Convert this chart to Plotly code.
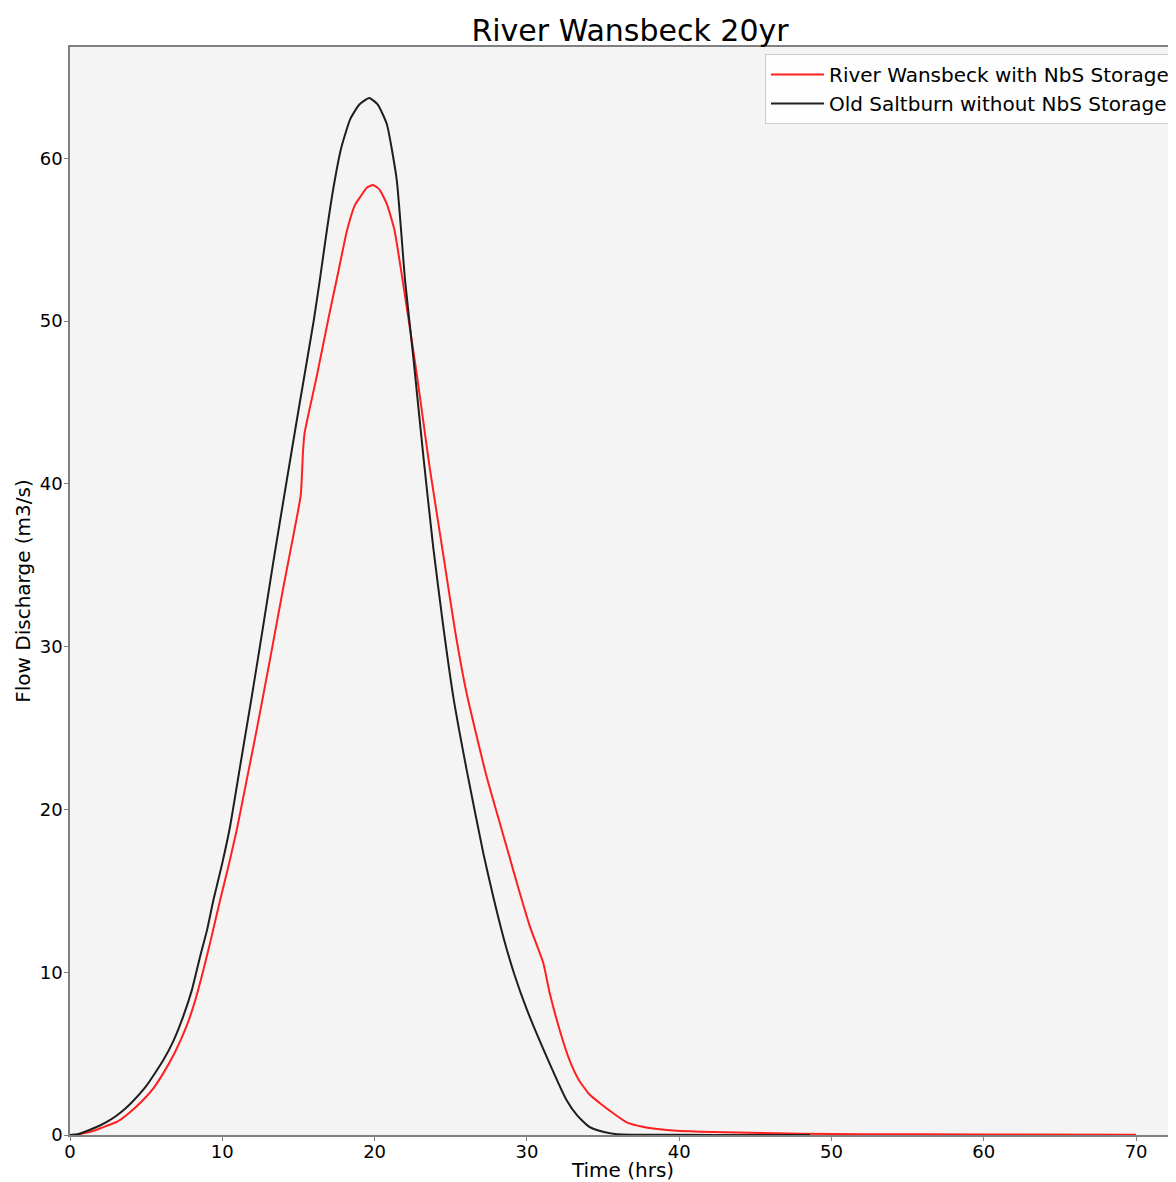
import plotly.graph_objects as go

# Old Saltburn without NbS Storage (black)
t_black = [0, 0.5, 0.9, 1.5, 2.0, 2.5, 3.07, 3.6, 4.0, 5.0, 6.13, 6.8, 7.44, 8.0, 8.54, 9.0,
           9.41, 10.0, 10.5, 11.16, 11.93, 12.69, 13.35, 14.23, 15.0, 16.0, 16.4, 16.9, 17.3,
           17.8, 18.4, 19.0, 19.65, 20.2, 20.8, 21.45, 22.0, 22.54, 23.2, 23.85, 24.5, 25.17,
           26.05, 27.14, 27.8, 28.5, 29.2, 30.0, 31.3, 32.6, 33.3, 34.1, 35.0, 35.9, 37.0, 40.0, 45.0, 48.6]
q_black = [0, 0.05, 0.17, 0.4, 0.6, 0.85, 1.2, 1.6, 1.95, 3.0, 4.6, 5.8, 7.3, 8.9, 10.95, 12.6,
           14.4, 16.7, 18.9, 22.6, 26.9, 31.3, 35.2, 40.2, 44.5, 50.0, 52.5, 55.8, 58.2,
           60.6, 62.4, 63.3, 63.7, 63.3, 62.1, 58.7, 52.5, 47.8, 41.7, 36.1, 31.3, 26.9,
           22.4, 17.3, 14.6, 12.0, 9.8, 7.7, 4.8, 2.15, 1.2, 0.5, 0.2, 0.05, 0.02, 0.01, 0.0, 0.0]

# River Wansbeck with NbS Storage (red)
t_red = [0, 0.5, 0.88, 1.5, 1.97, 2.5, 3.07, 3.94, 4.8, 5.5, 6.13, 6.9, 7.66, 8.2, 8.75, 9.3,
         9.85, 10.4, 10.94, 11.6, 12.26, 13.13, 14.0, 14.6, 15.15, 15.3, 15.4, 16.2, 17.0,
         17.5, 18.2, 18.7, 19.04, 19.5, 19.9, 20.3, 20.8, 21.3, 21.84, 22.76, 23.6, 24.5,
         25.28, 26.05, 27.36, 28.67, 29.4, 30.2, 31.08, 31.5, 32.2, 32.8, 33.4, 34.1, 34.8,
         35.65, 36.55, 37.6, 39.2, 41.4, 44.6, 48.0, 52.0, 60.0, 70.0]
q_red = [0, 0.03, 0.1, 0.25, 0.4, 0.6, 0.8, 1.4, 2.15, 2.9, 3.8, 5.1, 6.7, 8.2, 10.1, 12.2,
         14.4, 16.5, 18.7, 21.8, 24.9, 29.2, 33.6, 36.5, 39.3, 42.0, 43.1, 46.6, 50.3,
         52.5, 55.6, 57.1, 57.6, 58.2, 58.35, 58.1, 57.2, 55.6, 52.5, 46.8, 41.1, 35.7,
         31.0, 27.1, 22.0, 17.7, 15.3, 12.8, 10.55, 8.7, 6.3, 4.6, 3.4, 2.5, 1.95,
         1.35, 0.78, 0.51, 0.31, 0.2, 0.14, 0.08, 0.05, 0.03, 0.01]

x_ticks = [0, 10, 20, 30, 40, 50, 60, 70]
y_ticks = [0, 10, 20, 30, 40, 50, 60]

# page body has an 8px margin, so the figure is sized to fit the window
W, H = 1168, 1174
L, T, B, R = 62, 39, 47, 0
FONT = "DejaVu Sans"

fig = go.Figure()
fig.add_trace(go.Scatter(x=t_red, y=q_red, mode="lines", name="River Wansbeck with NbS Storage",
                         line=dict(color="#ff1f1f", width=2, shape="spline", smoothing=0.5)))
fig.add_trace(go.Scatter(x=t_black, y=q_black, mode="lines", name="Old Saltburn without NbS Storage",
                         line=dict(color="#1e1e1e", width=2, shape="spline", smoothing=0.5)))

fig.update_layout(
    width=W, height=H,
    margin=dict(l=L, r=R, t=T, b=B, autoexpand=False),
    paper_bgcolor="white", plot_bgcolor="#f4f4f4",
    font=dict(family=FONT, size=18, color="black"),
    title=dict(text="River Wansbeck 20yr", font=dict(family=FONT, size=30, color="black"),
               x=622 / W, xref="container", xanchor="center",
               y=1 - 22 / H, yref="container", yanchor="middle"),
    legend=dict(x=(757 - L) / (W - L - R), y=(H - B - 46) / (H - T - B), xanchor="left", yanchor="top",
                bgcolor="rgba(255,255,255,0.85)", bordercolor="#cccccc", borderwidth=1,
                font=dict(family=FONT, size=20), itemwidth=53, tracegroupgap=0),
    showlegend=True,
)
fig.update_xaxes(range=[0, (W - L - R) / 15.23], tickvals=x_ticks, ticks="outside", ticklen=4,
                 tickcolor="#808080", showline=True, linecolor="#808080", linewidth=1.5, mirror=True,
                 showgrid=False, zeroline=False, tickfont=dict(size=18), ticklabelstandoff=-4,
                 title=dict(text="Time (hrs)", font=dict(size=20), standoff=0), automargin=False)
fig.update_yaxes(range=[0, (H - T - B) / 16.28], tickvals=y_ticks, ticks="outside", ticklen=4,
                 tickcolor="#808080", showline=True, linecolor="#808080", linewidth=1.5, mirror=False,
                 showgrid=False, zeroline=False, tickfont=dict(size=18), ticklabelstandoff=-2,
                 title=dict(text="Flow Discharge (m3/s)", font=dict(size=20), standoff=4), automargin=False)

fig.write_html("out.html")
